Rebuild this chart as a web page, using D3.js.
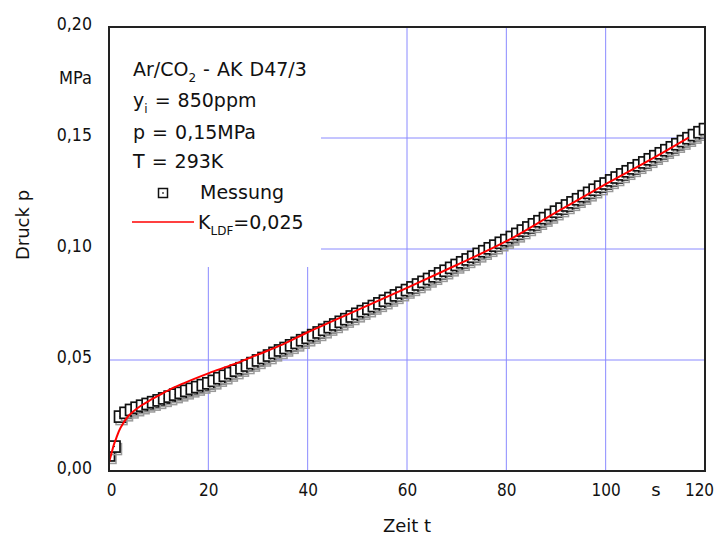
<!DOCTYPE html>
<html><head><meta charset="utf-8">
<script src="https://cdn.jsdelivr.net/npm/d3@7"></script>
<style>
html,body{margin:0;padding:0;background:#fff;}
svg text{font-family:"DejaVu Sans",sans-serif;fill:#111;}
</style></head>
<body>
<svg id="chart" width="720" height="542"></svg>
<script>
// ---- data ----
const timeS = [0,1.11,2.22,3.33,4.44,5.56,6.67,7.78,8.89,
 10,11.11,12.22,13.33,14.44,15.56,16.67,17.78,18.89,
 20,21.11,22.22,23.33,24.44,25.56,26.67,27.78,28.89,
 30,31.11,32.22,33.33,34.44,35.56,36.67,37.78,38.89,
 40,41.11,42.22,43.33,44.44,45.56,46.67,47.78,48.89,
 50,51.11,52.22,53.33,54.44,55.56,56.67,57.78,58.89,
 60,61.11,62.22,63.33,64.44,65.56,66.67,67.78,68.89,
 70,71.11,72.22,73.33,74.44,75.56,76.67,77.78,78.89,
 80,81.11,82.22,83.33,84.44,85.56,86.67,87.78,88.89,
 90,91.11,92.22,93.33,94.44,95.56,96.67,97.78,98.89,
 100,101.11,102.22,103.33,104.44,105.56,106.67,107.78,108.89,
 110,111.11,112.22,113.33,114.44,115.56,116.67,117.78,118.89,120];
const messung = [0.0070,0.0110,0.0245,0.0262,0.0275,0.0285,0.0294,0.0302,0.0310,
 0.0318,0.0327,0.0335,0.0344,0.0352,0.0361,0.0370,0.0378,0.0387,
 0.0395,0.0406,0.0418,0.0429,0.0441,0.0452,0.0463,0.0475,0.0486,
 0.0498,0.0509,0.0520,0.0532,0.0543,0.0554,0.0566,0.0577,0.0589,
 0.0600,0.0612,0.0624,0.0636,0.0648,0.0660,0.0672,0.0684,0.0696,
 0.0708,0.0720,0.0731,0.0743,0.0755,0.0767,0.0779,0.0791,0.0803,
 0.0815,0.0827,0.0840,0.0852,0.0865,0.0877,0.0890,0.0902,0.0915,
 0.0928,0.0940,0.0953,0.0965,0.0978,0.0990,0.1003,0.1015,0.1028,
 0.1040,0.1054,0.1068,0.1083,0.1097,0.1111,0.1125,0.1139,0.1153,
 0.1168,0.1182,0.1196,0.1210,0.1224,0.1238,0.1253,0.1267,0.1281,
 0.1295,0.1309,0.1322,0.1336,0.1350,0.1363,0.1377,0.1390,0.1404,
 0.1418,0.1431,0.1445,0.1458,0.1472,0.1486,0.1499,0.1513,0.1526,0.1540];
const modelT = [0,0.5,1,1.5,2,3,4,5,6.5,8,10,12.5,15,20,25,30,35,40,45,50,60,70,80,90,100,110,116.7];
const modelP = [0.004,0.008,0.012,0.015,0.018,0.022,0.025,0.027,0.0295,0.0315,0.034,0.037,0.0395,0.044,0.048,0.0525,0.057,0.0625,0.0675,0.0725,0.0825,0.0928,0.1035,0.1165,0.1292,0.1415,0.1502];
const xTicks = [0,20,40,60,80,100,120];
const yTicks = [0,0.05,0.10,0.15,0.20];
const legendLines = ["Ar/CO2 - AK D47/3","yi = 850ppm","p = 0,15MPa","T = 293K"];

// ---- layout ----
const svg = d3.select("#chart");
const x = d3.scaleLinear().domain([0,120]).range([109,705]);
const y = d3.scaleLinear().domain([0,0.2]).range([471,27]);
const gridCol = "#8a8aff";
const condense = (sel,f)=>sel.each(function(){const w=this.getComputedTextLength();d3.select(this).attr("textLength",w*f).attr("lengthAdjust","spacingAndGlyphs");});

svg.append("defs").append("clipPath").attr("id","clip")
  .append("rect").attr("x",109).attr("y",27).attr("width",596).attr("height",444);

// grid
const grid = svg.append("g");
grid.selectAll("line.v").data(xTicks.slice(1,6)).join("line")
  .attr("x1",d=>x(d)).attr("x2",d=>x(d)).attr("y1",y(0.2)).attr("y2",y(0))
  .attr("stroke",gridCol).attr("stroke-width",1);
grid.selectAll("line.h").data(yTicks.slice(1,4)).join("line")
  .attr("x1",x(0)).attr("x2",x(120)).attr("y1",d=>y(d)).attr("y2",d=>y(d))
  .attr("stroke",gridCol).attr("stroke-width",1);

// legend box (white, covers grid)
svg.append("rect").attr("x",110).attr("y",28).attr("width",211).attr("height",239).attr("fill","#fff");

// data markers
const pts = timeS.map((t,i)=>({t,p:messung[i]}));
const mk = svg.append("g").attr("clip-path","url(#clip)");
const s = 11;
const g = mk.selectAll("g").data(pts).join("g")
  .attr("transform",d=>`translate(${x(d.t)},${y(d.p)})`);
g.append("rect").attr("x",-s/2+1.5).attr("y",-s/2+2.5).attr("width",s).attr("height",s)
  .attr("fill","none").attr("stroke","#999").attr("stroke-width",1.5);
g.append("rect").attr("x",-s/2).attr("y",-s/2).attr("width",s).attr("height",s)
  .attr("fill","#fff").attr("stroke","#111").attr("stroke-width",1.7);
g.append("rect").attr("x",-0.5).attr("y",-0.5).attr("width",1).attr("height",1).attr("fill","#111");

// model line
const model = modelT.map((t,i)=>({t,p:modelP[i]}));
svg.append("path").datum(model).attr("clip-path","url(#clip)")
  .attr("fill","none").attr("stroke","#ff0000").attr("stroke-width",2)
  .attr("d",d3.line().x(d=>x(d.t)).y(d=>y(d.p)).curve(d3.curveMonotoneX));

// frame
svg.append("rect").attr("x",109).attr("y",27).attr("width",596).attr("height",444)
  .attr("fill","none").attr("stroke","#222").attr("stroke-width",2);

// axes labels
const fmt = d=>d.toFixed(2).replace(".",",");
const yAx = svg.append("g").attr("transform","translate(109,0)")
  .call(d3.axisLeft(y).tickValues(yTicks).tickSize(0).tickPadding(17).tickFormat(fmt));
yAx.select(".domain").remove();
yAx.selectAll("text").attr("font-size",18).attr("dy","0.12em")
  .style("font-family",'"DejaVu Sans",sans-serif').attr("fill","#111");
condense(yAx.selectAll("text"),0.88);
const xAx = svg.append("g").attr("transform","translate(0,471)")
  .call(d3.axisBottom(x).tickValues(xTicks).tickSize(0).tickPadding(12).tickFormat(d3.format("d")));
xAx.select(".domain").remove();
xAx.selectAll("text").attr("font-size",18)
  .style("font-family",'"DejaVu Sans",sans-serif').attr("fill","#111");
condense(xAx.selectAll("text"),0.85);
xAx.selectAll(".tick").filter(d=>d===0).select("text").attr("dx",2);
xAx.selectAll(".tick").filter(d=>d===120).select("text").attr("dx",-6);

condense(svg.append("text").attr("x",92).attr("y",84).attr("text-anchor","end").attr("font-size",18).text("MPa"),0.9);
svg.append("text").attr("x",656).attr("y",496).attr("text-anchor","middle").attr("font-size",18).text("s");
svg.append("text").attr("x",407).attr("y",532).attr("text-anchor","middle").attr("font-size",18).text("Zeit t");
svg.append("text").attr("transform","translate(29,225) rotate(-90)").attr("text-anchor","middle").attr("font-size",18).text("Druck p");

// legend text
const lx = 133, lfs = 19;
const t1 = svg.append("text").attr("x",lx).attr("y",76).attr("font-size",lfs).attr("word-spacing",1);
t1.append("tspan").text("Ar/CO");
t1.append("tspan").attr("dy",6).attr("font-size",12).text("2");
t1.append("tspan").attr("dy",-6).text(" - AK D47/3");
const t2 = svg.append("text").attr("x",lx).attr("y",107).attr("font-size",lfs).attr("word-spacing",1);
t2.append("tspan").text("y");
t2.append("tspan").attr("dy",6).attr("font-size",12).text("i");
t2.append("tspan").attr("dy",-6).text(" = 850ppm");
svg.append("text").attr("x",lx).attr("y",139).attr("font-size",lfs).attr("word-spacing",1).text(legendLines[2]);
svg.append("text").attr("x",lx).attr("y",168).attr("font-size",lfs).attr("word-spacing",1).text(legendLines[3]);

// legend symbols
const lg = svg.append("g").attr("transform","translate(163,193)");
lg.append("rect").attr("x",-4.5).attr("y",-4.5).attr("width",9).attr("height",9).attr("fill","#fff").attr("stroke","#111").attr("stroke-width",1.5);
lg.append("rect").attr("x",-0.75).attr("y",-0.75).attr("width",1.5).attr("height",1.5).attr("fill","#111");
svg.append("text").attr("x",200).attr("y",199).attr("font-size",lfs).text("Messung");
svg.append("line").attr("x1",132).attr("x2",194).attr("y1",222).attr("y2",222).attr("stroke","#ff0000").attr("stroke-width",1.5);
const t6 = svg.append("text").attr("x",198).attr("y",229).attr("font-size",lfs);
t6.append("tspan").text("K");
t6.append("tspan").attr("dy",6).attr("font-size",12).text("LDF");
t6.append("tspan").attr("dy",-6).text("=0,025");
</script>
</body></html>
